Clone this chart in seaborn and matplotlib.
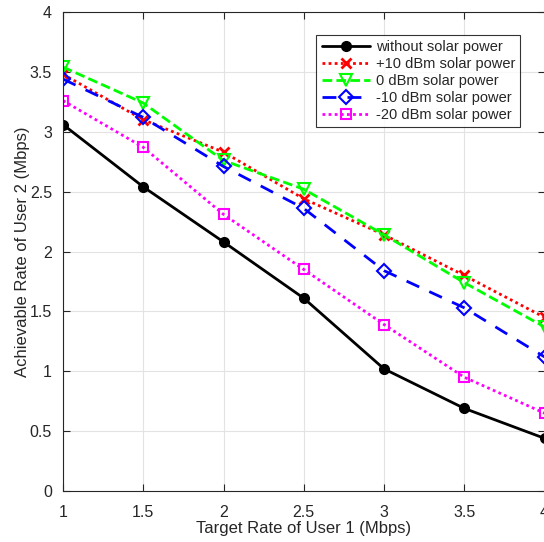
import numpy as np
import pandas as pd
import matplotlib
matplotlib.use("Agg")
import matplotlib.pyplot as plt
import seaborn as sns

# data
target_rate = [1, 1.5, 2, 2.5, 3, 3.5, 4]
no_solar = [3.06, 2.54, 2.08, 1.61, 1.02, 0.69, 0.44]
solar_p10 = [3.48, 3.10, 2.83, 2.44, 2.14, 1.80, 1.45]
solar_0 = [3.54, 3.24, 2.76, 2.52, 2.14, 1.74, 1.37]
solar_m10 = [3.44, 3.12, 2.71, 2.36, 1.84, 1.53, 1.12]
solar_m20 = [3.26, 2.87, 2.31, 1.85, 1.39, 0.95, 0.65]

labels = ["without solar power", "+10 dBm solar power", "0 dBm solar power",
          "-10 dBm solar power", "-20 dBm solar power"]
series = [no_solar, solar_p10, solar_0, solar_m10, solar_m20]

sns.set_theme(style="white")
plt.rcParams["font.family"] = ["Liberation Sans", "DejaVu Sans"]

fig = plt.figure(figsize=(5.44, 5.42), dpi=100)
ax = fig.add_axes([63 / 544, 51 / 542, 481.5 / 544, 479 / 542])

styles = [
    dict(color="black", marker="o", linestyle="-", markersize=7, mfc="black"),
    dict(color="red", marker="x", linestyle=(0, (1, 1.2)), markersize=7.5, mew=2, mfc="red"),
    dict(color="#00ff00", marker="v", linestyle=(0, (3.5, 1.5)), markersize=8.5, mew=1.5, mfc="none"),
    dict(color="blue", marker="D", linestyle=(0, (5, 4)), markersize=7, mew=1.5, mfc="none"),
    dict(color="magenta", marker="s", linestyle=(0, (1, 1.2)), markersize=6.5, mew=1.5, mfc="none"),
]

for lab, vals, st in zip(labels, series, styles):
    df = pd.DataFrame({"x": target_rate, "y": vals})
    sns.lineplot(data=df, x="x", y="y", ax=ax, label=lab, color=st["color"],
                 marker=st["marker"], markersize=st["markersize"],
                 markeredgewidth=st.get("mew", 1), markerfacecolor=st["mfc"],
                 markeredgecolor=st["color"], linewidth=2)
    ax.lines[-1].set_linestyle(st["linestyle"])

ax.set_xlim(1, 4)
ax.set_ylim(0, 4)
ax.set_xticks(target_rate)
ax.set_xticklabels(["1", "1.5", "2", "2.5", "3", "3.5", "4"])
ax.set_yticks(np.arange(0, 4.01, 0.5))
ax.set_yticklabels(["0", "0.5", "1", "1.5", "2", "2.5", "3", "3.5", "4"])
ax.grid(True, color="#e3e3e3", linewidth=0.8)
ax.tick_params(direction="in", length=5, width=0.8, colors="#262626",
               labelsize=11.5, top=True, right=True, bottom=True, left=True)
ax.tick_params(axis="x", pad=10)
ax.tick_params(axis="y", pad=8)
for sp in ax.spines.values():
    sp.set_color("#262626")
    sp.set_linewidth(0.8)

ax.set_xlabel("Target Rate of User 1 (Mbps)", fontsize=12, color="#262626", labelpad=1)
ax.set_ylabel("Achievable Rate of User 2 (Mbps)", fontsize=12, color="#262626", labelpad=0)

leg = ax.legend(loc="upper right", bbox_to_anchor=(457 / 481.5, 0.952), fontsize=10.5,
                frameon=True, fancybox=False, edgecolor="black", handlelength=3.3,
                borderpad=0.35, labelspacing=0.2, handletextpad=0.4, borderaxespad=0)
leg.get_frame().set_linewidth(0.8)
for h, st in zip(leg.get_lines(), styles):
    h.set_linestyle(st["linestyle"])

fig.savefig("out.png", dpi=100)
